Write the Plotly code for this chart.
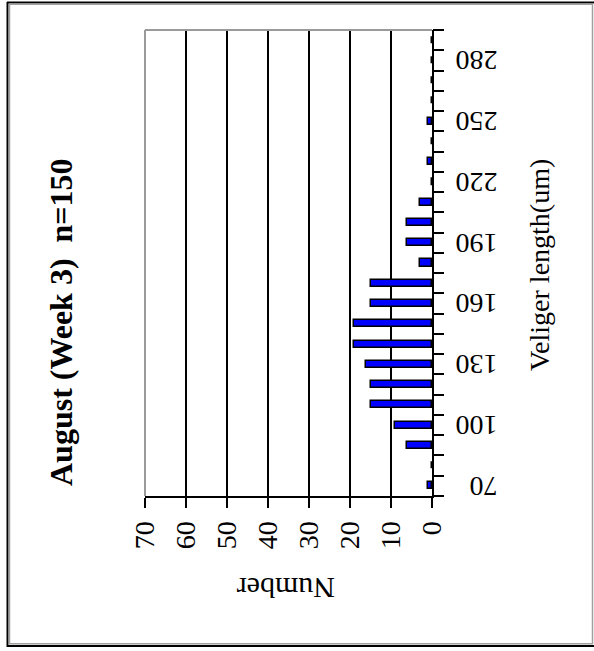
import plotly.graph_objects as go

# Veliger length classes (um) and counts per class
lengths = [70, 80, 90, 100, 110, 120, 130, 140, 150, 160, 170, 180,
           190, 200, 210, 220, 230, 240, 250, 260, 270, 280, 290]
counts = [1, 0, 6, 9, 15, 15, 16, 19, 19, 15, 15, 3,
          6, 6, 3, 0, 1, 0, 1, 0, 0, 0, 0]

length_ticks = [70, 100, 130, 160, 190, 220, 250, 280]
number_ticks = [0, 10, 20, 30, 40, 50, 60, 70]

title_text = "August (Week 3)\u00a0\u00a0n=150"
length_title = "Veliger length(um)"
number_title = "Number"

W, H = 594, 651
ML, MR, MT, MB = 145, 162, 30, 155
PW, PH = W - ML - MR, H - MT - MB
FONT = "Liberation Serif"
Y_RANGE = [lengths[0] - 5, lengths[-1] + 5]
# class boundaries, where the tick marks of the length axis sit
class_edges = [lengths[0] - 5] + [v + 5 for v in lengths]


def px(x):
    return (x - ML) / PW


def py(y):
    return 1 - (y - MT) / PH


fig = go.Figure()
fig.add_trace(go.Bar(
    x=counts, y=lengths, orientation="h", width=3.5,
    marker=dict(color="#0000FF", line=dict(color="black", width=1.5)),
    showlegend=False,
))
# empty trace that brings up the tick-mark axis
fig.add_trace(go.Scatter(x=[None], y=[None], yaxis="y2", showlegend=False,
                         hoverinfo="skip"))

fig.update_layout(
    xaxis=dict(
        range=[70, 0], tickmode="array", tickvals=number_ticks,
        tickangle=-90, ticks="outside", ticklen=10, tickwidth=2, tickcolor="black",
        showline=True, linecolor="black", linewidth=2,
        showgrid=True, gridcolor="black", gridwidth=1.5, zeroline=False,
        tickfont=dict(family=FONT, size=28, color="black"),
        ticklabelstandoff=2,
    ),
    yaxis=dict(
        range=Y_RANGE, side="right", tickmode="array", tickvals=length_ticks,
        tickangle=180, ticks="",
        showline=True, linecolor="black", linewidth=2,
        showgrid=False, zeroline=False,
        tickfont=dict(family=FONT, size=28, color="black"),
        ticklabelstandoff=58, ticklabelshift=9,
    ),
    yaxis2=dict(
        range=Y_RANGE, overlaying="y", side="right", anchor="x",
        tickmode="array", tickvals=class_edges, showticklabels=False,
        ticks="outside", ticklen=11, tickwidth=2, tickcolor="black",
        showline=False, showgrid=False, zeroline=False,
    ),
)

shapes = [
    # plot frame: top and left edges
    dict(type="line", xref="paper", yref="paper", x0=0, x1=1, y0=1, y1=1,
         line=dict(color="#9a9a9a", width=2), layer="above"),
    dict(type="line", xref="paper", yref="paper", x0=0, x1=0, y0=0, y1=1,
         line=dict(color="#9a9a9a", width=2), layer="above"),
    # outer picture frame
    dict(type="line", xref="paper", yref="paper", x0=px(7.5), x1=px(7.5),
         y0=py(2), y1=py(647), line=dict(color="black", width=2)),
    dict(type="line", xref="paper", yref="paper", x0=px(7), x1=px(594),
         y0=py(2.5), y1=py(2.5), line=dict(color="black", width=2)),
    dict(type="line", xref="paper", yref="paper", x0=px(7), x1=px(594),
         y0=py(646), y1=py(646), line=dict(color="black", width=2)),
    dict(type="line", xref="paper", yref="paper", x0=px(9.5), x1=px(9.5),
         y0=py(4), y1=py(644), line=dict(color="#a0a0a0", width=1.5)),
    dict(type="line", xref="paper", yref="paper", x0=px(9), x1=px(593),
         y0=py(4.2), y1=py(4.2), line=dict(color="#a0a0a0", width=1.5)),
    dict(type="line", xref="paper", yref="paper", x0=px(9), x1=px(593),
         y0=py(643.8), y1=py(643.8), line=dict(color="#a0a0a0", width=1.5)),
    dict(type="line", xref="paper", yref="paper", x0=px(592.5), x1=px(592.5),
         y0=py(4), y1=py(644), line=dict(color="#a0a0a0", width=1.5)),
]

annotations = [
    dict(text="<b>" + title_text + "</b>", xref="paper", yref="paper",
         x=px(61), y=py(322), xanchor="center", yanchor="middle",
         textangle=-90, showarrow=False,
         font=dict(family=FONT, size=32, color="black")),
    dict(text=length_title, xref="paper", yref="paper",
         x=px(539), y=py(265), xanchor="center", yanchor="middle",
         textangle=-90, showarrow=False,
         font=dict(family=FONT, size=28, color="black")),
    dict(text=number_title, xref="paper", yref="paper",
         x=px(286), y=py(589), xanchor="center", yanchor="middle",
         textangle=180, showarrow=False,
         font=dict(family=FONT, size=30, color="black")),
]

fig.update_layout(
    width=W, height=H, margin=dict(l=ML, r=MR, t=MT, b=MB),
    paper_bgcolor="white", plot_bgcolor="white",
    shapes=shapes, annotations=annotations, bargap=0,
)

fig.write_html("out.html")
